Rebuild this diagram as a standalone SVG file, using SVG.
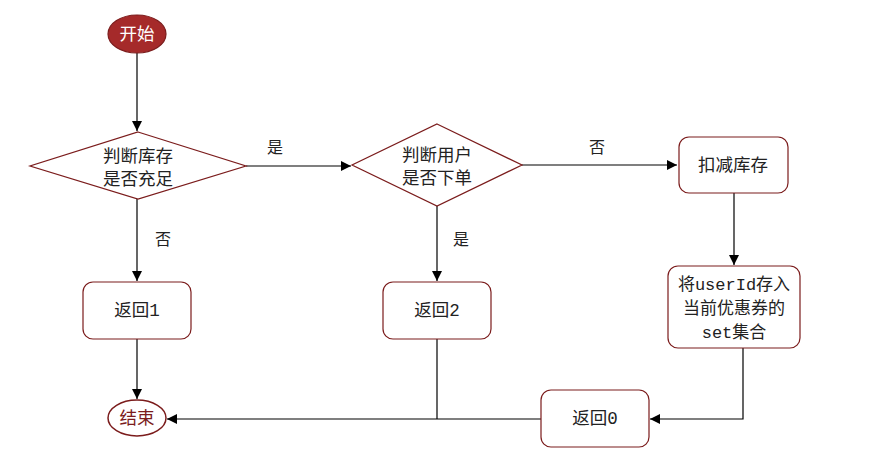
<svg xmlns="http://www.w3.org/2000/svg" width="869" height="470" viewBox="0 0 869 470">
<defs>
<marker id="ah" viewBox="0 0 10 10" refX="10" refY="5" markerWidth="10" markerHeight="10" markerUnits="userSpaceOnUse" orient="auto">
<path d="M0,0 L10,5 L0,10 z" fill="#000"/>
</marker>
<style>
.shape{fill:#fff;stroke:#7b1c1c;stroke-width:1.2}
.t{font-family:"Noto Sans CJK SC","Liberation Sans",sans-serif;font-size:17.5px;fill:#222;text-anchor:middle}
.m{font-family:"Liberation Mono","DejaVu Sans Mono","Noto Sans CJK SC",monospace}
.s{font-size:17px}
.edge{fill:none;stroke:#000;stroke-width:1.2}
.lbl{font-family:"Noto Sans CJK SC","Liberation Sans",sans-serif;font-size:16px;fill:#222;text-anchor:middle}
</style>
</defs>
<rect width="869" height="470" fill="#fff"/>
<g id="connectors">
<path class="edge" d="M137,53 V131" marker-end="url(#ah)"/>
<path class="edge" d="M246,166 H351" marker-end="url(#ah)"/>
<path class="edge" d="M522,165 H677" marker-end="url(#ah)"/>
<path class="edge" d="M137,199 V281" marker-end="url(#ah)"/>
<path class="edge" d="M437,206 V281" marker-end="url(#ah)"/>
<path class="edge" d="M734,193 V265" marker-end="url(#ah)"/>
<path class="edge" d="M743,348 V419 H650" marker-end="url(#ah)"/>
<path class="edge" d="M137,339 V399" marker-end="url(#ah)"/>
<path class="edge" d="M541,419 H167" marker-end="url(#ah)"/>
<path class="edge" d="M437,339 V419"/>
<text class="lbl" x="275" y="153">是</text>
<text class="lbl" x="597" y="153">否</text>
<text class="lbl" x="163" y="245">否</text>
<text class="lbl" x="461" y="245">是</text>
</g>
<g id="start">
<ellipse cx="137" cy="34" rx="29" ry="19" fill="#a52a2a" stroke="#7b1c1c" stroke-width="1.2"/>
<text class="t" x="137" y="40" style="fill:#fff">开始</text>
</g>
<g id="check-stock">
<polygon class="shape" points="138,132 246,166 138,199 30,166"/>
<text class="t" x="138" y="162">判断库存</text>
<text class="t" x="138" y="185">是否充足</text>
</g>
<g id="check-user">
<polygon class="shape" points="437,124 522,165 437,206 352,165"/>
<text class="t" x="437" y="161">判断用户</text>
<text class="t" x="437" y="184">是否下单</text>
</g>
<g id="deduct">
<rect class="shape" x="679" y="137" width="109" height="56" rx="10"/>
<text class="t" x="733" y="171">扣减库存</text>
</g>
<g id="save-user">
<rect class="shape" x="668" y="266" width="132" height="82" rx="10"/>
<text class="t m s" x="734" y="290">将userId存入</text>
<text class="t s" x="734" y="314">当前优惠券的</text>
<text class="t m s" x="734" y="338">set集合</text>
</g>
<g id="return1">
<rect class="shape" x="83" y="282" width="108" height="57" rx="10"/>
<text class="t m" x="137" y="316">返回1</text>
</g>
<g id="return2">
<rect class="shape" x="383" y="282" width="108" height="57" rx="10"/>
<text class="t m" x="437" y="316">返回2</text>
</g>
<g id="return0">
<rect class="shape" x="541" y="390" width="108" height="57" rx="10"/>
<text class="t m" x="595" y="424">返回0</text>
</g>
<g id="end">
<ellipse cx="137" cy="418" rx="29" ry="18" fill="#fff" stroke="#7b1c1c" stroke-width="1.5"/>
<text class="t" x="137" y="424" style="fill:#7b1c1c">结束</text>
</g>
</svg>
